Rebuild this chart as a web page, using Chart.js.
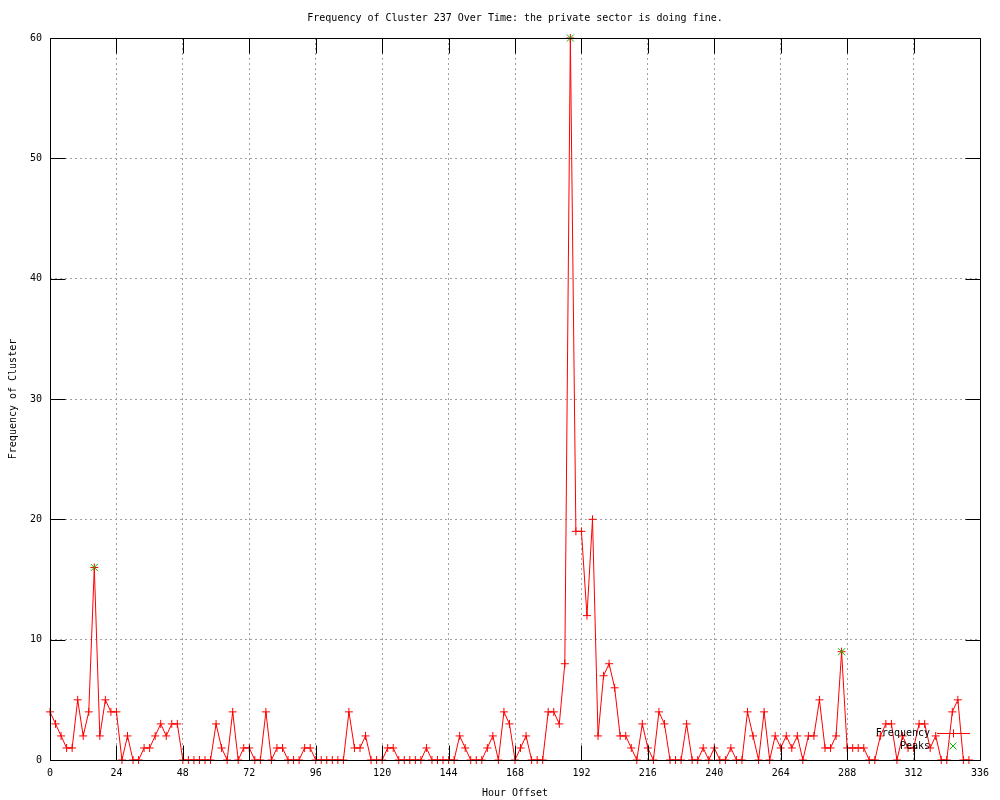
<!DOCTYPE html>
<html>
<head>
<meta charset="utf-8">
<script src="https://cdn.jsdelivr.net/npm/chart.js@4/dist/chart.umd.min.js"></script>
<style>
html,body{margin:0;padding:0;background:#fff;}
#wrap{width:1000px;height:800px;position:relative;}
</style>
</head>
<body>
<div id="wrap"><canvas id="c" width="1000" height="800"></canvas></div>
<script>
// ---- data ----
const titleText = "Frequency of Cluster 237 Over Time: the private sector is doing fine.";
const xTitle = "Hour Offset";
const yTitle = "Frequency of Cluster";
const hours = [0,2,4,6,8,10,12,14,16,18,20,22,24,26,28,30,32,34,36,38,40,42,44,46,48,50,52,54,56,58,
  60,62,64,66,68,70,72,74,76,78,80,82,84,86,88,90,92,94,96,98,100,102,104,106,108,110,112,114,116,118,
  120,122,124,126,128,130,132,134,136,138,140,142,144,146,148,150,152,154,156,158,160,162,164,166,168,170,172,174,176,178,
  180,182,184,186,188,190,192,194,196,198,200,202,204,206,208,210,212,214,216,218,220,222,224,226,228,230,232,234,236,238,
  240,242,244,246,248,250,252,254,256,258,260,262,264,266,268,270,272,274,276,278,280,282,284,286,288,290,292,294,296,298,
  300,302,304,306,308,310,312,314,316,318,320,322,324,326,328,330,332];
const frequency = [4,3,2,1,1,5,2,4,16,2,5,4,4,0,2,0,0,1,1,2,3,2,3,3,0,0,0,0,0,0,
  3,1,0,4,0,1,1,0,0,4,0,1,1,0,0,0,1,1,0,0,0,0,0,0,4,1,1,2,0,0,
  0,1,1,0,0,0,0,0,1,0,0,0,0,0,2,1,0,0,0,1,2,0,4,3,0,1,2,0,0,0,
  4,4,3,8,60,19,19,12,20,2,7,8,6,2,2,1,0,3,1,0,4,3,0,0,0,3,0,0,1,0,
  1,0,0,1,0,0,4,2,0,4,0,2,1,2,1,2,0,2,2,5,1,1,2,9,1,1,1,1,0,0,
  2,3,3,0,2,1,1,3,3,1,2,0,0,4,5,0,0];
const peakHours = [16,188,286];
const peakValues = [16,60,9];
const xTickValues = [0,24,48,72,96,120,144,168,192,216,240,264,288,312,336];
const yTickValues = [0,10,20,30,40,50,60];
const legendLabels = ["Frequency","Peaks"];

const FONT = "'DejaVu Sans Mono', 'Liberation Mono', monospace";
const RED = '#ff0000';
const GREEN = '#00c000';
const TICK_LEN = 15;

const freqPoints = hours.map((h,i)=>({x:h, y:frequency[i]}));
const peakPoints = peakHours.map((h,i)=>({x:h, y:peakValues[i]}));

const framePlugin = {
  id: 'gnuplotFrame',
  beforeDraw(chart){
    const ctx = chart.ctx;
    ctx.save();
    ctx.fillStyle = '#fff';
    ctx.fillRect(0,0,chart.width,chart.height);
    ctx.restore();
  },
  afterDatasetsDraw(chart){
    const {ctx, chartArea, scales} = chart;
    const {left,right,top,bottom} = chartArea;
    const a = v => Math.round(v) + 0.5;
    ctx.save();
    ctx.strokeStyle = '#000';
    ctx.lineWidth = 1;
    ctx.setLineDash([]);
    ctx.beginPath();
    // inward ticks, mirrored on all four sides
    xTickValues.forEach(v=>{
      const px = a(scales.x.getPixelForValue(v));
      ctx.moveTo(px, a(bottom)); ctx.lineTo(px, a(bottom)-TICK_LEN);
      ctx.moveTo(px, a(top)); ctx.lineTo(px, a(top)+TICK_LEN);
    });
    yTickValues.forEach(v=>{
      const py = a(scales.y.getPixelForValue(v));
      ctx.moveTo(a(left), py); ctx.lineTo(a(left)+TICK_LEN, py);
      ctx.moveTo(a(right), py); ctx.lineTo(a(right)-TICK_LEN, py);
    });
    ctx.rect(a(left), a(top), Math.round(right)-Math.round(left), Math.round(bottom)-Math.round(top));
    ctx.stroke();

    // title
    ctx.fillStyle = '#000';
    ctx.font = '10px ' + FONT;
    ctx.textAlign = 'center';
    ctx.textBaseline = 'middle';
    ctx.fillText(titleText, (left+right)/2, 18);

    // key (legend) inside the plot, gnuplot style
    const keyTextRight = 930;
    const sampleL = 937, sampleR = 970, sampleMid = 953;
    const rows = [733, 746];
    ctx.textAlign = 'right';
    legendLabels.forEach((lab,i)=>{
      ctx.fillStyle = '#000';
      ctx.fillText(lab, keyTextRight, rows[i]);
    });
    // Frequency sample: line with a cross in the middle
    const r0 = 4;
    ctx.strokeStyle = RED;
    ctx.lineWidth = 1;
    ctx.beginPath();
    ctx.moveTo(sampleL, rows[0]+0.5); ctx.lineTo(sampleR, rows[0]+0.5);
    ctx.moveTo(sampleMid+0.5, rows[0]+0.5-r0); ctx.lineTo(sampleMid+0.5, rows[0]+0.5+r0);
    ctx.stroke();
    // Peaks sample: point only (x)
    const r1 = 3.5;
    ctx.strokeStyle = GREEN;
    ctx.beginPath();
    ctx.moveTo(sampleMid-r1, rows[1]-r1); ctx.lineTo(sampleMid+r1, rows[1]+r1);
    ctx.moveTo(sampleMid-r1, rows[1]+r1); ctx.lineTo(sampleMid+r1, rows[1]-r1);
    ctx.stroke();
    ctx.restore();
  }
};

new Chart(document.getElementById('c'), {
  type: 'scatter',
  data: {
    datasets: [
      {
        label: legendLabels[0],
        data: freqPoints,
        showLine: true,
        borderColor: RED,
        backgroundColor: RED,
        borderWidth: 1,
        tension: 0,
        pointStyle: 'cross',
        pointRadius: 4,
        pointBorderColor: RED,
        pointBorderWidth: 1,
        clip: false,
        order: 2
      },
      {
        label: legendLabels[1],
        data: peakPoints,
        showLine: false,
        borderColor: GREEN,
        backgroundColor: GREEN,
        pointStyle: 'crossRot',
        pointRadius: 5,
        pointBorderColor: GREEN,
        pointBorderWidth: 1,
        clip: false,
        order: 1
      }
    ]
  },
  options: {
    responsive: false,
    animation: false,
    devicePixelRatio: 1,
    layout: { padding: { top: 38, right: 20, left: 0, bottom: 0 } },
    plugins: { legend: { display: false }, tooltip: { enabled: false }, title: { display: false } },
    scales: {
      x: {
        type: 'linear',
        min: 0, max: 336,
        afterBuildTicks: s => { s.ticks = xTickValues.map(v=>({value:v})); },
        afterFit: s => { s.height = 40; },
        grid: { color: '#a0a0a0', lineWidth: 1, drawTicks: false, borderDash: [2,3], dash: [2,3] },
        border: { display: false, dash: [2,3] },
        ticks: { color: '#000', font: { family: FONT, size: 10 }, padding: 7, maxRotation: 0, autoSkip: false },
        title: { display: true, text: xTitle, color: '#000', font: { family: FONT, size: 10 }, padding: { top: 0, bottom: 1 } }
      },
      y: {
        type: 'linear',
        min: 0, max: 60,
        afterBuildTicks: s => { s.ticks = yTickValues.map(v=>({value:v})); },
        afterFit: s => { s.width = 50; },
        grid: { color: '#a0a0a0', lineWidth: 1, drawTicks: false, borderDash: [2,3], dash: [2,3] },
        border: { display: false, dash: [2,3] },
        ticks: { color: '#000', font: { family: FONT, size: 10 }, padding: 8 },
        title: { display: true, text: yTitle, color: '#000', font: { family: FONT, size: 10 }, padding: { top: 7, bottom: 0 } }
      }
    }
  },
  plugins: [framePlugin]
});
</script>
</body>
</html>
